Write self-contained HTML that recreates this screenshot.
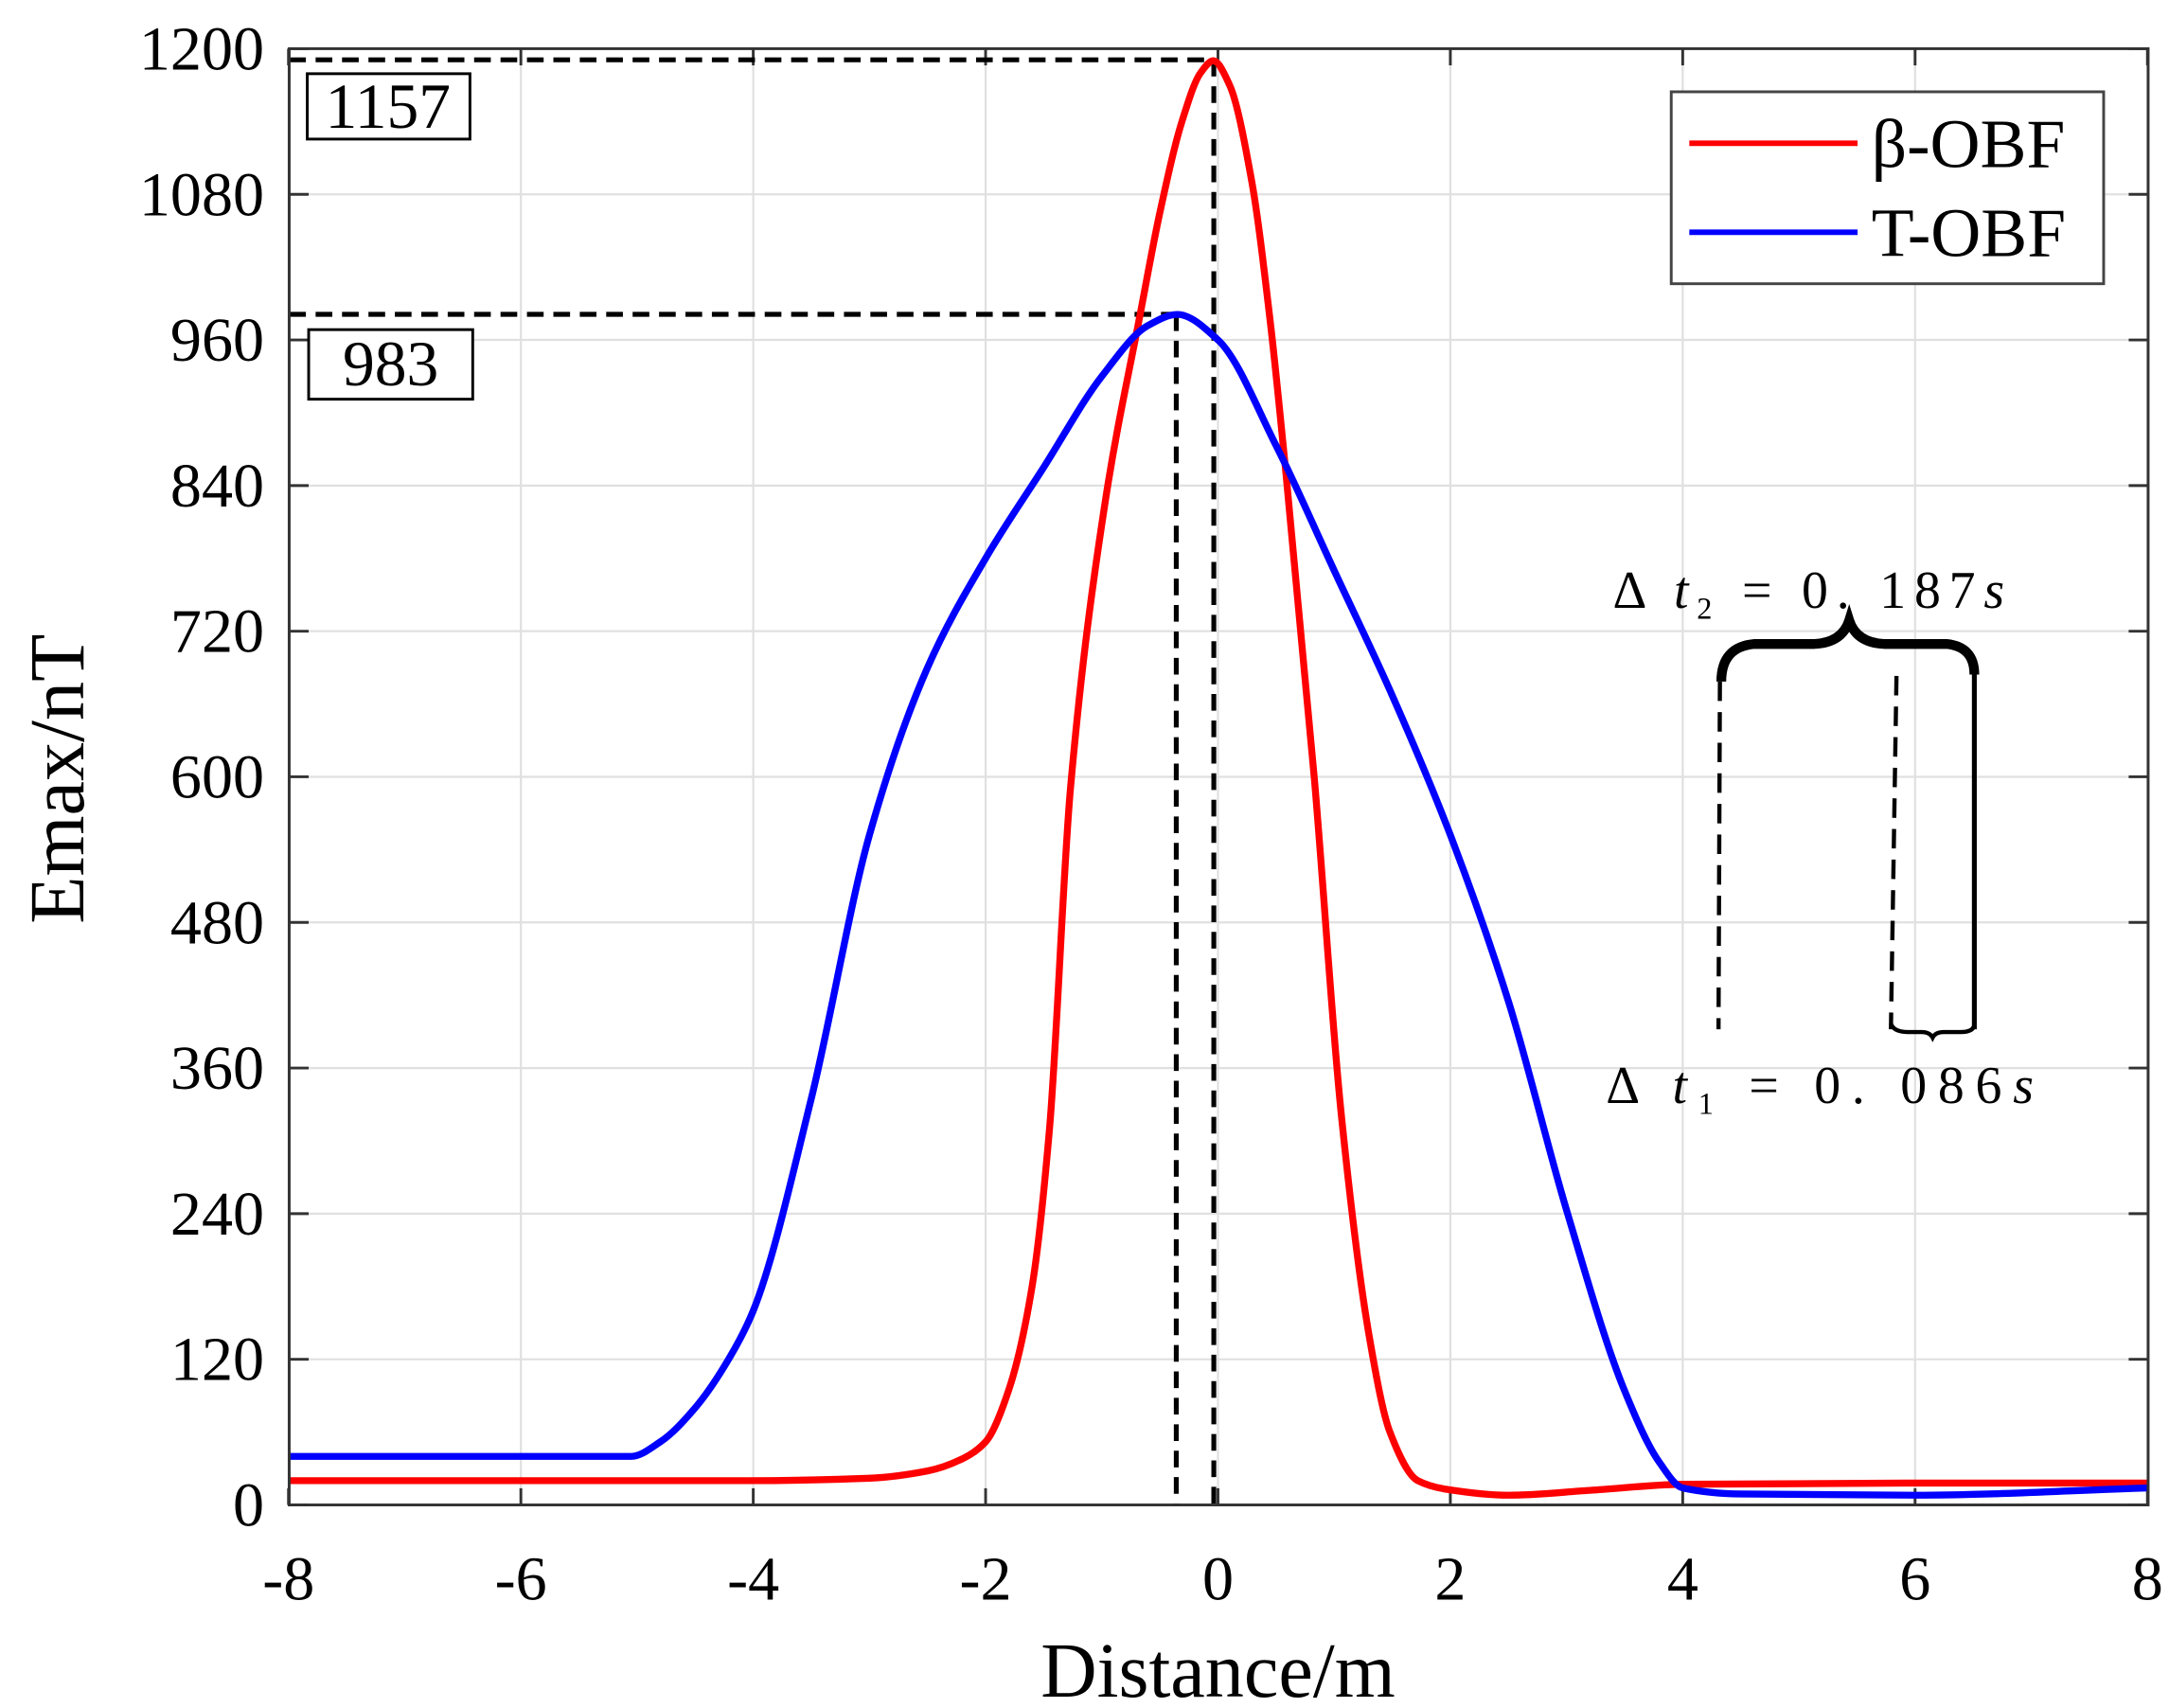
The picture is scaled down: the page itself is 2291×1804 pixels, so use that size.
<!DOCTYPE html>
<html><head><meta charset="utf-8"><style>
html,body{margin:0;padding:0;background:#fff;}
svg{display:block;}
text{font-family:"Liberation Serif",serif;fill:#000;}
</style></head><body>
<svg id="s" width="2291" height="1804" viewBox="0 0 1560 1228" preserveAspectRatio="none" xmlns="http://www.w3.org/2000/svg">
<rect x="0" y="0" width="1560" height="1228" fill="#fff"/>
<g id="grid" stroke="#e0e0e0" stroke-width="1.5"></g>
<g id="ticks" stroke="#333" stroke-width="2"></g>
<g id="lab" font-size="45" text-anchor="end"></g>
<g stroke="#000" stroke-width="3.5" stroke-dasharray="12,7" fill="none">
<line x1="208" y1="43" x2="873" y2="43"/>
<line x1="873" y1="43" x2="873" y2="1082"/>
<line x1="208" y1="226" x2="846" y2="226"/>
<line x1="846" y1="226" x2="846" y2="1082"/>
</g>
<rect x="221" y="53" width="117" height="47" fill="#fff" stroke="#000" stroke-width="2"/>
<text x="279" y="92" font-size="46" text-anchor="middle">1157</text>
<rect x="222" y="237" width="118" height="50" fill="#fff" stroke="#000" stroke-width="2"/>
<text x="281" y="277" font-size="46" text-anchor="middle">983</text>
<path id="red" fill="none" stroke="#ff0000" stroke-width="5" stroke-linejoin="round"/>
<path id="blue" fill="none" stroke="#0000ff" stroke-width="5" stroke-linejoin="round"/>
<rect x="208" y="35" width="1337" height="1047" fill="none" stroke="#333" stroke-width="2"/>
<rect x="1202" y="66" width="311" height="138" fill="#fff" stroke="#444" stroke-width="2"/>
<line x1="1215" y1="103" x2="1336" y2="103" stroke="#ff0000" stroke-width="4"/>
<line x1="1215" y1="167" x2="1336" y2="167" stroke="#0000ff" stroke-width="4"/>
<text x="1346" y="120" font-size="50">β-OBF</text>
<text x="1346" y="184" font-size="50">T-OBF</text>
<text x="1160" y="437" font-size="38" font-family="Liberation Mono,monospace" letter-spacing="6">Δ <tspan font-style="italic">t</tspan><tspan font-size="22" dy="8">2</tspan><tspan dy="-8"> = 0. 187<tspan font-style="italic">s</tspan></tspan></text>
<text x="1155" y="793" font-size="38" font-family="Liberation Mono,monospace" letter-spacing="8">Δ <tspan font-style="italic">t</tspan><tspan font-size="22" dy="8">1</tspan><tspan dy="-8"> = 0. 086<tspan font-style="italic">s</tspan></tspan></text>
<path d="M1238,490 Q1238,465 1262,463 L1305,463 Q1325,462 1330,446 Q1335,462 1355,463 L1400,463 Q1420,465 1420,485" fill="none" stroke="#000" stroke-width="7"/>
<line x1="1420" y1="485" x2="1420" y2="740" stroke="#000" stroke-width="3.5"/>
<line x1="1237" y1="490" x2="1236" y2="740" stroke="#000" stroke-width="3" stroke-dasharray="14,8"/>
<line x1="1364" y1="486" x2="1360" y2="740" stroke="#000" stroke-width="3" stroke-dasharray="14,8"/>
<path d="M1360,736 Q1362,742 1372,742 L1382,742 Q1388,742 1390,746 Q1392,742 1398,742 L1410,742 Q1420,742 1420,736" fill="none" stroke="#000" stroke-width="3"/>
<text x="876" y="1220" font-size="56" text-anchor="middle">Distance/m</text>
<text transform="translate(60,560) rotate(-90)" font-size="56" text-anchor="middle">Emax/nT</text>
</svg>
<script>
var ns="http://www.w3.org/2000/svg";
function X(v){return 876+v*83.5625;}
function Y(v){return 1082-v*0.8725;}
var g=document.getElementById('grid'),t=document.getElementById('ticks'),l=document.getElementById('lab');
function line(p,a,b,c,d){var e=document.createElementNS(ns,'line');e.setAttribute('x1',a);e.setAttribute('y1',b);e.setAttribute('x2',c);e.setAttribute('y2',d);p.appendChild(e);}
function txt(x,y,s,anc){var e=document.createElementNS(ns,'text');e.setAttribute('x',x);e.setAttribute('y',y);if(anc)e.setAttribute('text-anchor',anc);e.textContent=s;l.appendChild(e);}
for(var v=-8;v<=8;v+=2){var x=X(v);line(g,x,35,x,1082);line(t,x,1082,x,1070);line(t,x,35,x,47);txt(x,1150,String(v),'middle');}
for(var v=0;v<=1200;v+=120){var y=Y(v);line(g,208,y,1545,y);line(t,208,y,222,y);line(t,1545,y,1531,y);txt(190,y+15,String(v));}
function mono(pts){
 var n=pts.length,xs=pts.map(a=>a[0]),ys=pts.map(a=>a[1]),d=[],m=[];
 for(var i=0;i<n-1;i++)d.push((ys[i+1]-ys[i])/(xs[i+1]-xs[i]));
 m[0]=d[0];m[n-1]=d[n-2];
 for(var i=1;i<n-1;i++){if(d[i-1]*d[i]<=0)m[i]=0;else{var h0=xs[i]-xs[i-1],h1=xs[i+1]-xs[i];m[i]=3*(h0+h1)/((2*h1+h0)/d[i-1]+(h1+2*h0)/d[i]);}}
 var s='M'+X(xs[0])+','+Y(ys[0]);
 for(var i=0;i<n-1;i++){var h=xs[i+1]-xs[i];
  s+=' C'+X(xs[i]+h/3)+','+Y(ys[i]+m[i]*h/3)+' '+X(xs[i+1]-h/3)+','+Y(ys[i+1]-m[i+1]*h/3)+' '+X(xs[i+1])+','+Y(ys[i+1]);}
 return s;}
var red=[[-8,20],[-4,20],[-3,22],[-2.5,28],[-2.2,38],[-2,52],[-1.8,95],[-1.6,180],[-1.45,310],[-1.27,590],[-0.97,827],[-0.67,981],[-0.5,1065],[-0.31,1140],[-0.15,1180],[-0.04,1190],[0.1,1170],[0.29,1091],[0.45,975],[0.59,845],[0.83,598],[1.06,323],[1.3,140],[1.48,60],[1.72,20],[1.96,13],[2.5,8],[3.2,12],[4,17],[6,18],[8,18]];
var blue=[[-8,40],[-5.05,40],[-4.8,52],[-4.5,80],[-4.2,122],[-4,160],[-3.5,335],[-3,552],[-2.5,690],[-2,780],[-1.5,855],[-1,930],[-0.6,972],[-0.35,981],[0,960],[0.5,873],[1,770],[1.5,667],[2,552],[2.5,415],[3,243],[3.5,94],[3.8,35],[4,14],[4.5,9],[6,8],[8,14]];
document.getElementById('red').setAttribute('d',mono(red));
document.getElementById('blue').setAttribute('d',mono(blue));
</script>
</body></html>
